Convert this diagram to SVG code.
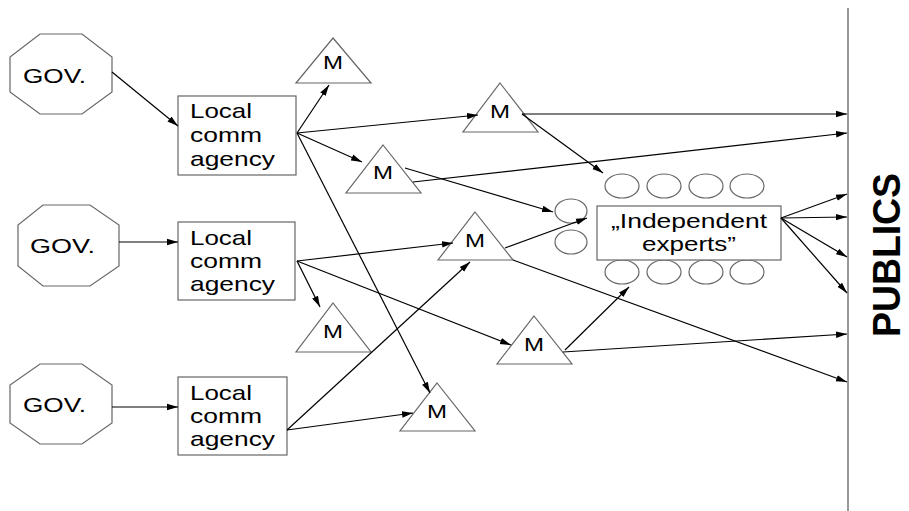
<svg xmlns="http://www.w3.org/2000/svg" width="909" height="511" viewBox="0 0 909 511">
<style>
.shape{fill:#fff;stroke:#666;stroke-width:1.2}
.c{fill:none;stroke:#000;stroke-width:1.2;marker-end:url(#ah)}
.t{font-family:"Liberation Sans",Arial,sans-serif;font-size:21px;fill:#000}
.m{font-family:"Liberation Sans",Arial,sans-serif;font-size:19px;fill:#000;text-anchor:middle}
.e{fill:#fff;stroke:#666;stroke-width:1.2}
</style>
<defs>
<marker id="ah" markerUnits="userSpaceOnUse" markerWidth="12" markerHeight="8" refX="11" refY="4" orient="auto">
<path d="M0,0.8 L11,4 L0,7.2 Z" fill="#000"/>
</marker>
</defs>
<rect width="909" height="511" fill="#fff"/>
<line x1="848" y1="8" x2="848" y2="511" stroke="#999" stroke-width="2"/>
<g id="gov1"><polygon class="shape" points="40,34 82,34 112,57 112,92 82,114 40,114 10,92 10,57"/><text class="t" x="23" y="83" textLength="63" lengthAdjust="spacingAndGlyphs">GOV.</text></g>
<g id="gov2"><polygon class="shape" points="43,205 90,205 119,225 119,266 90,286 43,286 18,266 18,225"/><text class="t" x="30" y="253" textLength="65" lengthAdjust="spacingAndGlyphs">GOV.</text></g>
<g id="gov3"><polygon class="shape" points="40,364 82,364 112,385 112,423 82,444 40,444 10,423 10,385"/><text class="t" x="23" y="412" textLength="63" lengthAdjust="spacingAndGlyphs">GOV.</text></g>
<g id="agency1"><rect class="shape" x="178" y="96" width="118" height="79"/>
<text class="t" x="190" y="118" textLength="62" lengthAdjust="spacingAndGlyphs">Local</text>
<text class="t" x="190" y="142" textLength="72" lengthAdjust="spacingAndGlyphs">comm</text>
<text class="t" x="190" y="166" textLength="85" lengthAdjust="spacingAndGlyphs">agency</text></g>
<g id="agency2"><rect class="shape" x="178" y="222" width="117" height="78"/>
<text class="t" x="190" y="245" textLength="62" lengthAdjust="spacingAndGlyphs">Local</text>
<text class="t" x="190" y="268" textLength="72" lengthAdjust="spacingAndGlyphs">comm</text>
<text class="t" x="190" y="291" textLength="85" lengthAdjust="spacingAndGlyphs">agency</text></g>
<g id="agency3"><rect class="shape" x="178" y="377" width="109" height="78"/>
<text class="t" x="190" y="400" textLength="62" lengthAdjust="spacingAndGlyphs">Local</text>
<text class="t" x="190" y="423" textLength="72" lengthAdjust="spacingAndGlyphs">comm</text>
<text class="t" x="190" y="446" textLength="85" lengthAdjust="spacingAndGlyphs">agency</text></g>
<g id="m1"><polygon class="shape" points="333,38 371,83 296,83"/><text class="m" x="333" y="69" textLength="20" lengthAdjust="spacingAndGlyphs">M</text></g>
<g id="m2"><polygon class="shape" points="500,83 538,132 463,132"/><text class="m" x="500" y="118" textLength="20" lengthAdjust="spacingAndGlyphs">M</text></g>
<g id="m3"><polygon class="shape" points="383,145 421,193 346,193"/><text class="m" x="383" y="179" textLength="20" lengthAdjust="spacingAndGlyphs">M</text></g>
<g id="m4"><polygon class="shape" points="475,212 513,260 438,260"/><text class="m" x="475" y="247" textLength="20" lengthAdjust="spacingAndGlyphs">M</text></g>
<g id="m5"><polygon class="shape" points="333,303 371,352 296,352"/><text class="m" x="333" y="338" textLength="20" lengthAdjust="spacingAndGlyphs">M</text></g>
<g id="m6"><polygon class="shape" points="534,316 572,364 497,364"/><text class="m" x="534" y="351" textLength="20" lengthAdjust="spacingAndGlyphs">M</text></g>
<g id="m7"><polygon class="shape" points="437,383 475,431 400,431"/><text class="m" x="437" y="418" textLength="20" lengthAdjust="spacingAndGlyphs">M</text></g>
<g id="experts">
<ellipse class="e" cx="622" cy="186" rx="17" ry="12"/><ellipse class="e" cx="664" cy="186" rx="17" ry="12"/><ellipse class="e" cx="706" cy="186" rx="17" ry="12"/><ellipse class="e" cx="747" cy="186" rx="17" ry="12"/>
<ellipse class="e" cx="622" cy="272" rx="17" ry="12"/><ellipse class="e" cx="664" cy="272" rx="17" ry="12"/><ellipse class="e" cx="706" cy="272" rx="17" ry="12"/><ellipse class="e" cx="747" cy="272" rx="17" ry="12"/>
<ellipse class="e" cx="571" cy="211" rx="16" ry="12"/><ellipse class="e" cx="571" cy="242" rx="16" ry="12"/>
<rect class="shape" x="597" y="206" width="184" height="54"/>
<text class="t" x="611" y="228" textLength="156" lengthAdjust="spacingAndGlyphs">„Independent</text>
<text class="t" x="642" y="251" textLength="94" lengthAdjust="spacingAndGlyphs">experts”</text>
</g>
<g id="publics"><text font-family="&quot;Liberation Sans&quot;,Arial,sans-serif" font-size="38" font-weight="bold" fill="#000" transform="translate(900,337) rotate(-90)" textLength="164" lengthAdjust="spacingAndGlyphs">PUBLICS</text></g>
<g id="connectors">
<line class="c" x1="112" y1="72" x2="178" y2="126"/>
<line class="c" x1="119" y1="242" x2="178" y2="242"/>
<line class="c" x1="112" y1="407" x2="178" y2="407"/>
<line class="c" x1="297" y1="133" x2="329" y2="85"/>
<line class="c" x1="297" y1="133" x2="478" y2="115"/>
<line class="c" x1="297" y1="133" x2="362" y2="162"/>
<line class="c" x1="297" y1="133" x2="430" y2="393"/>
<line class="c" x1="522" y1="114" x2="847" y2="114"/>
<line class="c" x1="522" y1="114" x2="603" y2="173"/>
<line class="c" x1="413" y1="182" x2="847" y2="133"/>
<line class="c" x1="405" y1="168" x2="553" y2="212"/>
<line class="c" x1="505" y1="248" x2="587" y2="218"/>
<line class="c" x1="513" y1="260" x2="847" y2="382"/>
<line class="c" x1="297" y1="261" x2="453" y2="243"/>
<line class="c" x1="297" y1="261" x2="320" y2="307"/>
<line class="c" x1="297" y1="261" x2="511" y2="345"/>
<line class="c" x1="287" y1="430" x2="470" y2="262"/>
<line class="c" x1="287" y1="430" x2="413" y2="413"/>
<line class="c" x1="565" y1="350" x2="629" y2="287"/>
<line class="c" x1="563" y1="352" x2="847" y2="334"/>
<line class="c" x1="781" y1="218" x2="847" y2="194"/>
<line class="c" x1="781" y1="218" x2="847" y2="217"/>
<line class="c" x1="781" y1="218" x2="847" y2="257"/>
<line class="c" x1="781" y1="218" x2="847" y2="293"/>
</g>
</svg>
